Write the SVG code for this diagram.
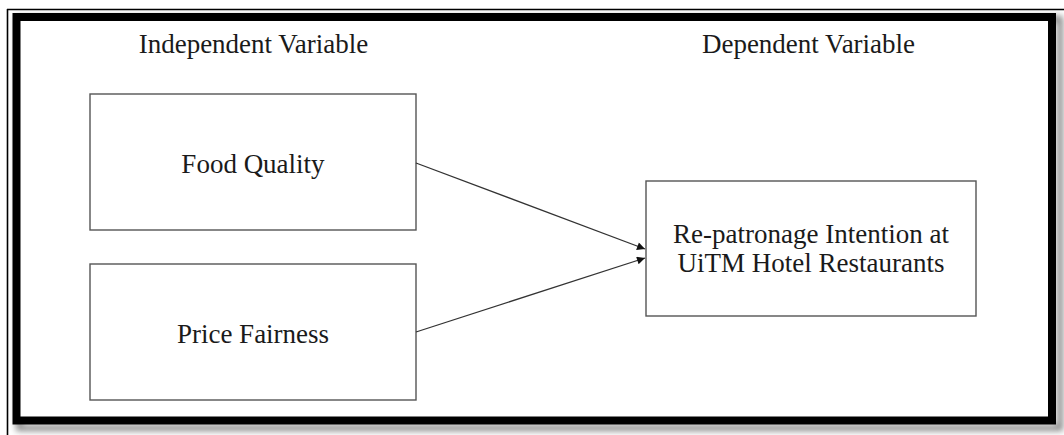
<svg xmlns="http://www.w3.org/2000/svg" width="1064" height="435" viewBox="0 0 1064 435">
<defs>
<style>
.box{fill:#fff;stroke:#555;stroke-width:1.4}
.t{font-family:"Liberation Serif","Times New Roman",serif;font-size:27px;fill:#1a1a1a;text-anchor:middle}
.c{stroke:#333;stroke-width:1.3;fill:none}
</style>
<marker id="ah" viewBox="0 0 10 10" refX="10" refY="5" markerWidth="10" markerHeight="8" markerUnits="userSpaceOnUse" orient="auto">
<path d="M0,0 L10,5 L0,10 z" fill="#111"/>
</marker>
<filter id="sh" x="-5%" y="-5%" width="110%" height="115%">
<feGaussianBlur stdDeviation="3"/>
</filter>
</defs>
<rect x="0" y="0" width="1064" height="435" fill="#fff"/>
<g id="frame">
<rect x="19" y="19" width="1041" height="409" fill="none" stroke="#888" stroke-width="6" filter="url(#sh)"/>
<line x1="7.5" y1="9" x2="7.5" y2="435" stroke="#000" stroke-width="1.6"/>
<line x1="7" y1="9.5" x2="1064" y2="9.5" stroke="#000" stroke-width="1.6"/>
<rect x="16.5" y="17" width="1035.5" height="403.5" fill="#fff" stroke="#000" stroke-width="8"/>
</g>
<g id="label-independent"><text class="t" x="253.5" y="53">Independent Variable</text></g>
<g id="label-dependent"><text class="t" x="808.5" y="53">Dependent Variable</text></g>
<g id="node-food-quality">
<rect class="box" x="90" y="94" width="326" height="136"/>
<text class="t" x="253" y="173">Food Quality</text>
</g>
<g id="node-price-fairness">
<rect class="box" x="90" y="264" width="326" height="136"/>
<text class="t" x="253" y="343">Price Fairness</text>
</g>
<g id="node-repatronage">
<rect class="box" x="646" y="181" width="330" height="135"/>
<text class="t" x="811" y="243">Re-patronage Intention at</text>
<text class="t" x="811" y="272">UiTM Hotel Restaurants</text>
</g>
<g id="connectors">
<line class="c" x1="416" y1="163" x2="645" y2="249" marker-end="url(#ah)"/>
<line class="c" x1="416" y1="332" x2="645" y2="258" marker-end="url(#ah)"/>
</g>
</svg>
